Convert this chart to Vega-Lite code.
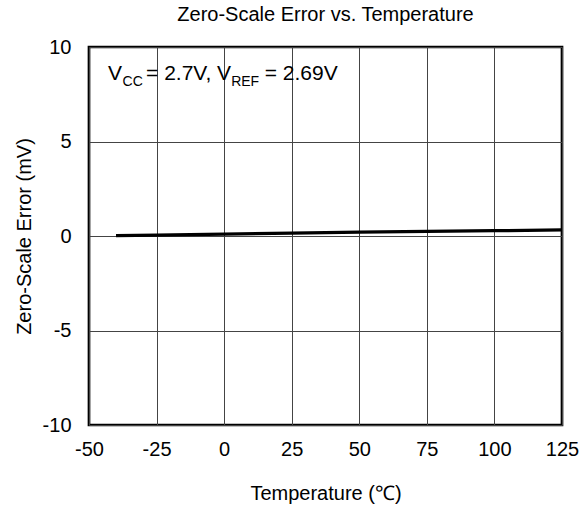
{
  "$schema": "https://vega.github.io/schema/vega-lite/v6.json",
  "autosize": {"type": "none"},
  "padding": {"left": 89, "top": 47, "right": 19, "bottom": 87},
  "width": 473,
  "height": 378,
  "background": "white",
  "config": {
    "font": "Liberation Sans",
    "view": {"stroke": "black", "strokeWidth": 2.7},
    "axis": {"labelFont": "Liberation Sans", "titleFont": "Liberation Sans", "labelColor": "black", "titleColor": "black", "titleFontWeight": "normal", "labelFontSize": 20, "titleFontSize": 20, "domain": false, "ticks": false, "tickSize": 0, "grid": true, "gridColor": "#444444", "gridWidth": 1, "gridOpacity": 1, "labelExpr": "replace(datum.label, '−', '-')"}
  },
  "title": {"text": "Zero-Scale Error vs. Temperature", "font": "Liberation Sans", "fontSize": 20, "fontWeight": "normal", "color": "black", "offset": 12},
  "datasets": {
    "series": [
      {"temp": -40, "err": 0.02},
      {"temp": -25, "err": 0.05},
      {"temp": 0, "err": 0.10},
      {"temp": 25, "err": 0.15},
      {"temp": 50, "err": 0.20},
      {"temp": 75, "err": 0.24},
      {"temp": 100, "err": 0.28},
      {"temp": 125, "err": 0.32}
    ],
    "note": [
      {"part": "V", "kind": "main", "temp": -42.97, "err": 8.23},
      {"part": "CC", "kind": "sub", "temp": -37.6, "err": 7.96},
      {"part": "= 2.7V, V", "kind": "main", "temp": -28.9, "err": 8.23},
      {"part": "REF", "kind": "sub", "temp": 2.6, "err": 7.96},
      {"part": "= 2.69V", "kind": "main", "temp": 15.0, "err": 8.23}
    ]
  },
  "layer": [
    {
      "data": {"name": "series"},
      "mark": {"type": "line", "color": "black", "strokeWidth": 3.3},
      "encoding": {
        "x": {"field": "temp", "type": "quantitative", "scale": {"domain": [-50, 125], "nice": false, "zero": false}, "axis": {"title": "Temperature (℃)", "values": [-50, -25, 0, 25, 50, 75, 100, 125], "labelPadding": 14, "titlePadding": 24, "labelFlush": false}},
        "y": {"field": "err", "type": "quantitative", "scale": {"domain": [-10, 10], "nice": false}, "axis": {"title": "Zero-Scale Error (mV)", "values": [-10, -5, 0, 5, 10], "labelPadding": 18, "titlePadding": 8, "labelFlush": false}}
      }
    },
    {
      "data": {"name": "note"},
      "transform": [{"filter": "datum.kind === 'main'"}],
      "mark": {"type": "text", "align": "left", "baseline": "alphabetic", "font": "Liberation Sans", "fontSize": 21, "color": "black"},
      "encoding": {
        "x": {"field": "temp", "type": "quantitative"},
        "y": {"field": "err", "type": "quantitative"},
        "text": {"field": "part"}
      }
    },
    {
      "data": {"name": "note"},
      "transform": [{"filter": "datum.kind === 'sub'"}],
      "mark": {"type": "text", "align": "left", "baseline": "alphabetic", "font": "Liberation Sans", "fontSize": 14, "color": "black"},
      "encoding": {
        "x": {"field": "temp", "type": "quantitative"},
        "y": {"field": "err", "type": "quantitative"},
        "text": {"field": "part"}
      }
    }
  ]
}
